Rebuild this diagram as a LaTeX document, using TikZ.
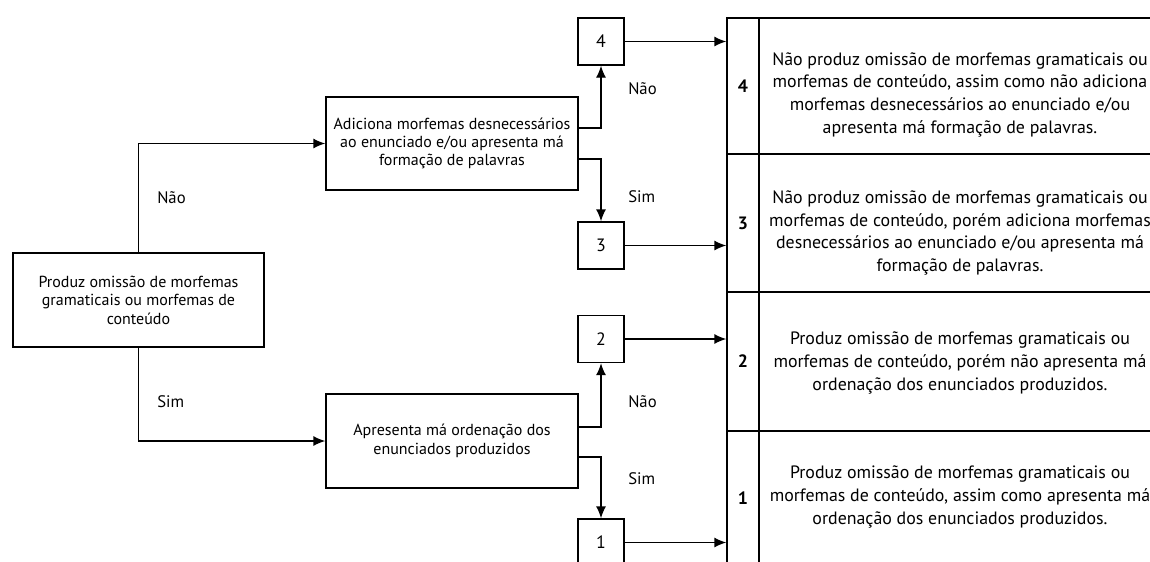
\documentclass[tikz,border=0pt]{standalone}
\usepackage{fontspec}
\setmainfont{PT Sans}
\usetikzlibrary{arrows.meta}

\begin{document}
\begin{tikzpicture}[x=0.75pt,y=-0.75pt]
\tikzset{caixa/.style={draw, line width=1pt, align=center, inner sep=0pt, minimum width=189pt, minimum height=70.5pt, font=\fontsize{12}{13.8}\selectfont},
  quad/.style={draw, line width=1pt, inner sep=0pt, minimum width=34.5pt, minimum height=35.25pt, font=\fontsize{13.4}{15}\selectfont},
  numcel/.style={draw, line width=1pt, inner sep=0pt, minimum width=24pt, font=\bfseries\fontsize{13.4}{15}\selectfont},
  cel/.style={draw, line width=1pt, inner sep=0pt, minimum width=308.25pt},
  desc/.style={align=center, font=\fontsize{13.4}{17}\selectfont},
  rot/.style={anchor=west, inner sep=0pt, font=\fontsize{12.5}{14}\selectfont},
  seta/.style={line width=1pt, -{Latex[length=9pt,width=7.5pt]}}}
\useasboundingbox (0,0) rectangle (1150,561);
\clip (0,0) rectangle (1150,561);
% caixas de decisao
\node[caixa, minimum width=188.25pt] (prod) at (138.5,300) {Produz omissão de morfemas\\gramaticais ou morfemas de\\conteúdo};
\node[caixa, minimum height=69.75pt] (adic) at (452,143.5) {Adiciona morfemas desnecessários\\ao enunciado e/ou apresenta má\\formação de palavras};
\node[caixa] (apres) at (452,441) {Apresenta má ordenação dos\\enunciados produzidos};
% resultados
\node[quad] (q4) at (601,41.5) {4};
\node[quad] (q3) at (601,245.5) {3};
\node[quad] (q2) at (601,339) {2};
\node[quad] (q1) at (601,542.5) {1};
% tabela
\node[numcel, minimum height=102pt] (num4) at (743,86) {4};
\node[numcel, minimum height=103.5pt] (num3) at (743,223) {3};
\node[numcel, minimum height=104.25pt] (num2) at (743,361.5) {2};
\node[numcel, minimum height=100.5pt] (num1) at (743,498) {1};
\node[cel, minimum height=102pt] (cel4) at (964.5,86) {};
\node[cel, minimum height=103.5pt] (cel3) at (964.5,223) {};
\node[cel, minimum height=104.25pt] (cel2) at (964.5,361.5) {};
\node[cel, minimum height=100.5pt] (cel1) at (964.5,498) {};
\node[desc] (desc4) at (960,94.5) {Não produz omissão de morfemas gramaticais ou\\morfemas de conteúdo, assim como não adiciona\\morfemas desnecessários ao enunciado e/ou\\apresenta má formação de palavras.};
\node[desc] (desc3) at (960,233) {Não produz omissão de morfemas gramaticais ou\\morfemas de conteúdo, porém adiciona morfemas\\desnecessários ao enunciado e/ou apresenta má\\formação de palavras.};
\node[desc] (desc2) at (960,363) {Produz omissão de morfemas gramaticais ou\\morfemas de conteúdo, porém não apresenta má\\ordenação dos enunciados produzidos.};
\node[desc] (desc1) at (960,497) {Produz omissão de morfemas gramaticais ou\\morfemas de conteúdo, assim como apresenta má\\ordenação dos enunciados produzidos.};
% rotulos
\node[rot] (nao1) at (157,198) {Não};
\node[rot] (sim1) at (157,402) {Sim};
\node[rot] (nao2) at (628,89) {Não};
\node[rot] (sim2) at (628,197) {Sim};
\node[rot] (nao3) at (628,402) {Não};
\node[rot] (sim3) at (628,479) {Sim};
% setas
\draw[seta] (prod.north) |- (adic.west);
\draw[seta] (prod.south) |- (apres.west);
\draw[seta] ([yshift=11.6pt]adic.east) -| (q4.south);
\draw[seta] ([yshift=-11.6pt]adic.east) -| (q3.north);
\draw[seta] ([yshift=10.5pt]apres.east) -| (q2.south);
\draw[seta] ([yshift=-12pt]apres.east) -| (q1.north);
\draw[seta] (q4.east) -- (q4.east -| num4.west);
\draw[seta] (q3.east) -- (q3.east -| num3.west);
\draw[seta] (q2.east) -- (q2.east -| num2.west);
\draw[seta] (q1.east) -- (q1.east -| num1.west);
\end{tikzpicture}
\end{document}
